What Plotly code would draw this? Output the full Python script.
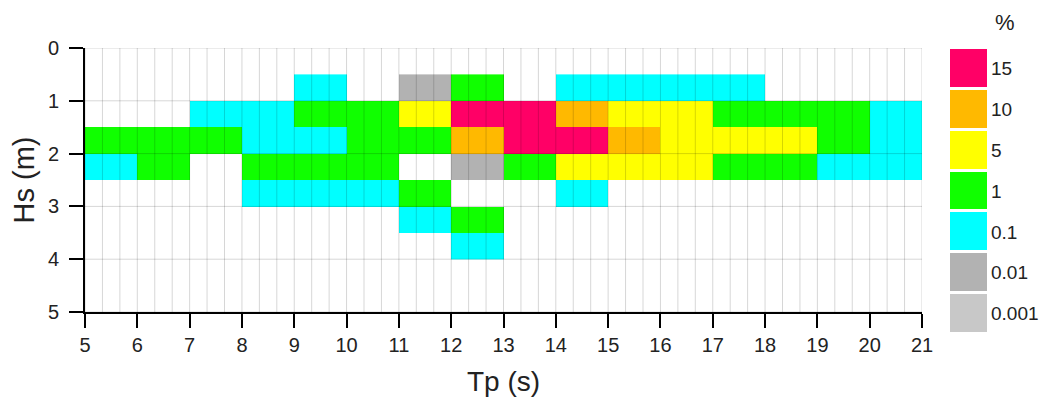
import plotly.graph_objects as go

# ---- data ----
levels = ["15", "10", "5", "1", "0.1", "0.01", "0.001"]
level_colors = ["#ff0066", "#ffb900", "#ffff00", "#10ff00", "#00ffff", "#b2b2b2", "#c8c8c8"]

tp_edges = list(range(5, 22))                 # Tp bin edges (s)
hs_edges = [0.5, 1.0, 1.5, 2.0, 2.5, 3.0, 3.5, 4.0]  # Hs bin edges (m)

# occurrence class per (Hs bin, Tp bin); "" = no occurrence
#            5     6     7     8      9      10     11     12      13    14     15     16     17     18     19     20
row_0p5 = ["",   "",   "",   "",    "0.1", "",    "0.01", "1",   "",   "0.1", "0.1", "0.1", "0.1", "",    "",    ""]
row_1p0 = ["",   "",   "0.1", "0.1", "1",  "1",   "5",   "15",   "15", "10",  "5",   "5",   "1",   "1",   "1",   "0.1"]
row_1p5 = ["1",  "1",  "1",  "0.1", "0.1", "1",   "1",   "10",   "15", "15",  "10",  "5",   "5",   "5",   "1",   "0.1"]
row_2p0 = ["0.1", "1", "",   "1",   "1",   "1",   "",    "0.01", "1",  "5",   "5",   "5",   "1",   "1",   "0.1", "0.1"]
row_2p5 = ["",   "",   "",   "0.1", "0.1", "0.1", "1",   "",     "",   "0.1", "",    "",    "",    "",    "",    ""]
row_3p0 = ["",   "",   "",   "",    "",    "",    "0.1", "1",    "",   "",    "",    "",    "",    "",    "",    ""]
row_3p5 = ["",   "",   "",   "",    "",    "",    "",    "0.1",  "",   "",    "",    "",    "",    "",    "",    ""]
rows = [row_0p5, row_1p0, row_1p5, row_2p0, row_2p5, row_3p0, row_3p5]

z = [[levels.index(v) if v else None for v in r] for r in rows]

# ---- geometry (page pixels; the page body has an 8px margin) ----
OFF = 8
W, H = 1047 - OFF, 407 - OFF
plot_left, plot_right = 85 - OFF, 922 - OFF
plot_top, plot_bottom = 48 - OFF, 312 - OFF
leg_left, leg_right = 950 - OFF, 987 - OFF
leg_bottom = 334 - OFF
ML, MT = plot_left, plot_top
MB = H - leg_bottom
MR = 10
PW, PH = W - ML - MR, H - MT - MB

n = len(levels)
cscale = []
for i, c in enumerate(level_colors):
    cscale.append([i / n, c])
    cscale.append([(i + 1) / n, c])

font = "Liberation Sans, Arial, Helvetica, sans-serif"
txt = "#222222"

fig = go.Figure()
fig.add_trace(go.Heatmap(
    x=tp_edges, y=hs_edges, z=z,
    colorscale=cscale, zmin=-0.5, zmax=n - 0.5, showscale=False,
    xaxis="x", yaxis="y", hoverongaps=False,
))

# legend as a small heatmap column
fig.add_trace(go.Heatmap(
    x=[0], y=list(range(n)), z=[[i] for i in range(n)],
    colorscale=cscale, zmin=-0.5, zmax=n - 0.5, showscale=False,
    ygap=3, xaxis="x2", yaxis="y2",
))

xdom = [0, (plot_right - ML) / PW]
ydom = [(H - MB - plot_bottom) / PH, 1]

fig.update_layout(
    template="none",
    width=W, height=H,
    margin=dict(l=ML, r=MR, t=MT, b=MB, pad=0, autoexpand=False),
    paper_bgcolor="white", plot_bgcolor="white",
    font=dict(family=font, color=txt),
    xaxis=dict(
        domain=xdom, range=[5, 21], tickmode="linear", tick0=5, dtick=1,
        showgrid=False, zeroline=False, automargin=False,
        showline=True, linecolor="black", linewidth=2,
        ticks="outside", ticklen=14, tickwidth=2, tickcolor="black",
        tickfont=dict(size=20, color=txt), ticklabelstandoff=0,
        title=dict(text="Tp (s)", font=dict(size=28, color=txt), standoff=16),
        anchor="y",
    ),
    yaxis=dict(
        domain=ydom, range=[5, 0], tickmode="linear", tick0=0, dtick=1,
        showgrid=False, zeroline=False, automargin=False,
        showline=True, linecolor="black", linewidth=2,
        ticks="outside", ticklen=14, tickwidth=2, tickcolor="black",
        tickfont=dict(size=20, color=txt), ticklabelstandoff=6,
        title=dict(text="Hs (m)", font=dict(size=29, color=txt), standoff=12),
        anchor="x",
    ),
    xaxis2=dict(
        domain=[(leg_left - ML) / PW, (leg_right - ML) / PW],
        anchor="y2", visible=False, range=[-0.5, 0.5], automargin=False,
    ),
    yaxis2=dict(
        domain=[0, 1], anchor="x2", side="right", autorange="reversed",
        tickmode="array", tickvals=list(range(n)), ticktext=levels,
        showgrid=False, zeroline=False, showline=False, ticks="", automargin=False,
        tickfont=dict(size=19, color=txt), ticklabelstandoff=3,
    ),
    annotations=[dict(
        text="%", xref="paper", yref="paper",
        x=(1005 - OFF - ML) / PW, y=(H - MB - (23 - OFF)) / PH,
        xanchor="center", yanchor="middle", showarrow=False,
        font=dict(size=22, color=txt),
    )],
)

# grid lines drawn over the cells (visible through colour), every 1/3 s and every 1 m
grid_col = "rgba(0,0,0,0.16)"
shapes = []
for k in range(3 * (21 - 5) + 1):
    xv = 5 + k / 3
    shapes.append(dict(type="line", xref="x", yref="y", x0=xv, x1=xv, y0=0, y1=5,
                       line=dict(color=grid_col, width=1), layer="above"))
for hv in range(0, 6):
    shapes.append(dict(type="line", xref="x", yref="y", x0=5, x1=21, y0=hv, y1=hv,
                       line=dict(color=grid_col, width=1), layer="above"))
fig.update_layout(shapes=shapes)

fig.write_html("out.html")
